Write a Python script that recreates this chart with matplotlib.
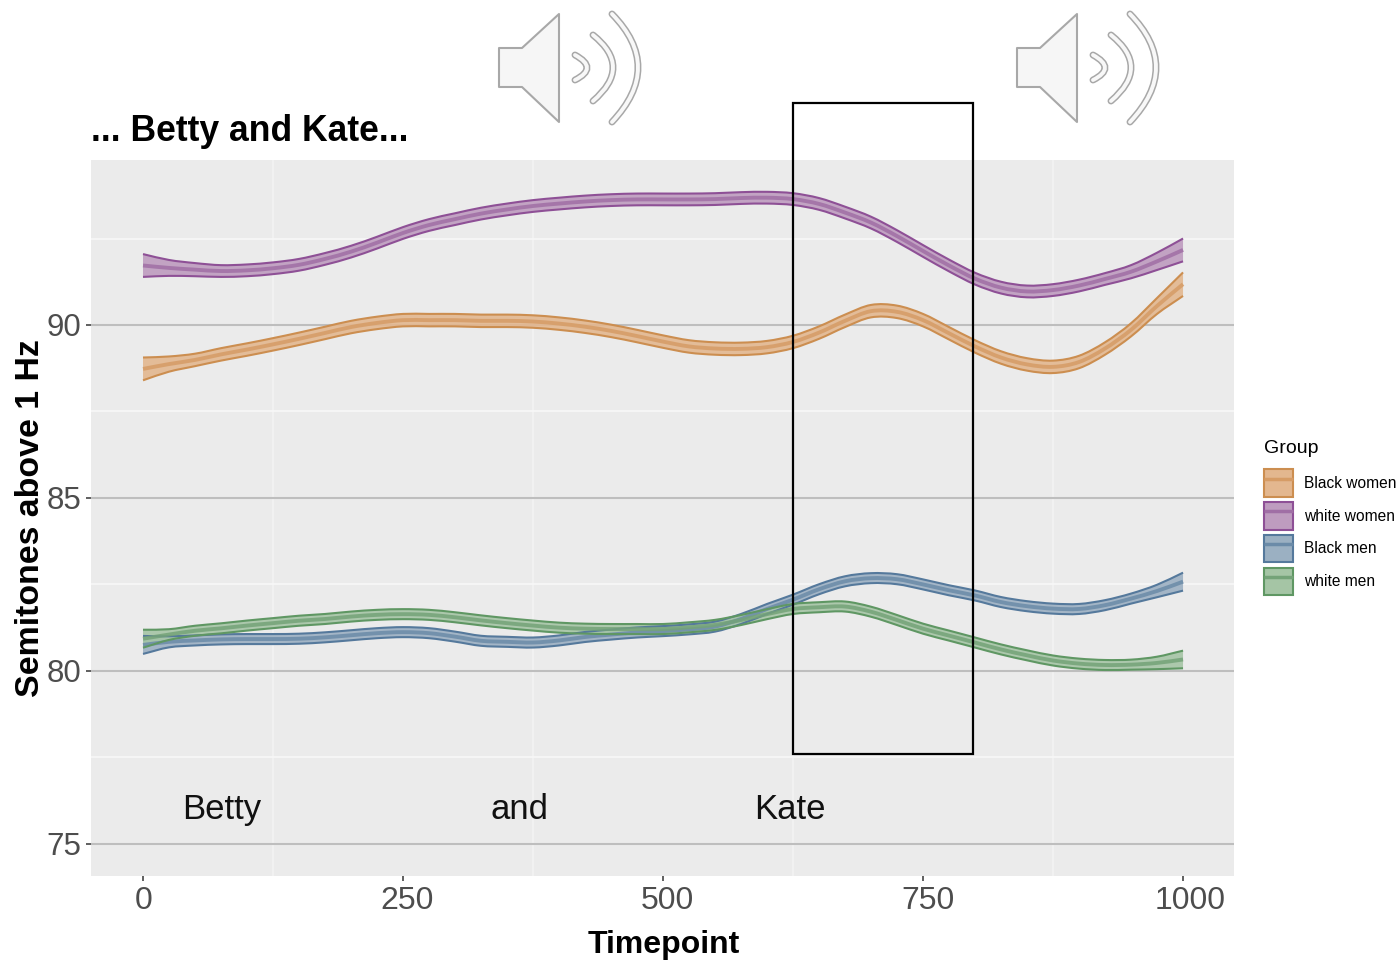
import matplotlib
matplotlib.use('Agg')
import matplotlib.pyplot as plt
import matplotlib.transforms as mtrans
from matplotlib.legend_handler import HandlerTuple
from matplotlib.lines import Line2D
from matplotlib.patches import Patch, PathPatch, Polygon, Rectangle
from matplotlib.path import Path
import numpy as np

plt.rcParams['font.family'] = ['Liberation Sans', 'DejaVu Sans']

# timepoints the curves were read at
timepoint = np.arange(0, 1001, 25)

black_women = [88.73, 88.87, 88.99, 89.15, 89.29, 89.44, 89.60, 89.77, 89.94, 90.06, 90.14,
               90.14, 90.14, 90.12, 90.12, 90.10, 90.04, 89.95, 89.83, 89.68, 89.52,
               89.38, 89.32, 89.31, 89.36, 89.51, 89.78, 90.12, 90.40, 90.38, 90.14,
               89.76, 89.38, 89.06, 88.86, 88.79, 88.93, 89.32, 89.86, 90.55, 91.18]
white_women = [91.72, 91.65, 91.60, 91.56, 91.58, 91.64, 91.74, 91.91, 92.12, 92.38, 92.66,
               92.89, 93.06, 93.22, 93.34, 93.44, 93.51, 93.57, 93.61, 93.63, 93.63,
               93.63, 93.64, 93.67, 93.68, 93.64, 93.50, 93.25, 92.96, 92.57, 92.14,
               91.72, 91.34, 91.08, 90.97, 91.01, 91.14, 91.33, 91.54, 91.84, 92.17]
black_men = [80.75, 80.84, 80.88, 80.91, 80.92, 80.92, 80.93, 80.97, 81.03, 81.09, 81.12,
             81.09, 80.99, 80.87, 80.84, 80.82, 80.88, 80.98, 81.05, 81.11, 81.15,
             81.20, 81.28, 81.50, 81.79, 82.06, 82.36, 82.59, 82.68, 82.65, 82.50,
             82.33, 82.18, 81.99, 81.87, 81.80, 81.79, 81.90, 82.09, 82.31, 82.58]
white_men = [80.93, 81.05, 81.16, 81.23, 81.31, 81.38, 81.45, 81.50, 81.57, 81.62, 81.64,
             81.62, 81.55, 81.46, 81.38, 81.31, 81.25, 81.22, 81.21, 81.21, 81.21,
             81.26, 81.33, 81.47, 81.64, 81.79, 81.84, 81.86, 81.71, 81.47, 81.22,
             81.02, 80.82, 80.62, 80.45, 80.30, 80.21, 80.17, 80.18, 80.23, 80.33]

# half width of each ribbon
hw_black_women = [0.33, 0.22, 0.18] + [0.18] * 35 + [0.19, 0.23, 0.34]
hw_white_women = [0.33, 0.23, 0.19] + [0.17] * 35 + [0.19, 0.25, 0.33]
hw_black_men = [0.26, 0.16] + [0.145] * 37 + [0.18, 0.26]
hw_white_men = [0.26, 0.155] + [0.145] * 37 + [0.18, 0.255]

groups = ['Black women', 'white women', 'Black men', 'white men']
series = [black_women, white_women, black_men, white_men]
widths = [hw_black_women, hw_white_women, hw_black_men, hw_white_men]
fills = ['#E3B78F', '#BE9CBF', '#9BB0C2', '#A5C5A5']
edges = ['#CC8E50', '#8E5096', '#55799C', '#5F9763']
mids = ['#D69C66', '#A06FA5', '#6B8BA8', '#74A378']

xticks = [0, 250, 500, 750, 1000]
xminor = [125, 375, 625, 875]
yticks = [75, 80, 85, 90]
yminor = [77.5, 82.5, 87.5, 92.5]
xlabel_shift = [1, 4.5, 4, 5, 7]   # tick labels sit a bit right of their ticks

words = ['Betty', 'and', 'Kate']
word_x = [76, 362, 622]


def curve(x, y):
    # bezier through the read points so the line doesn't look angular
    pts = np.column_stack([x, y])
    d = np.gradient(pts, axis=0) / 3
    verts = [pts[0]]
    for i in range(len(pts) - 1):
        verts += [pts[i] + d[i], pts[i + 1] - d[i + 1], pts[i + 1]]
    return np.array(verts)


def open_path(verts):
    return Path(verts, [Path.MOVETO] + [Path.CURVE4] * (len(verts) - 1))


fig = plt.figure(figsize=(13.99, 9.6), dpi=100)
ax = fig.add_axes([91/1399, 1 - 876/960, 1143/1399, 716/960])
ax.set_facecolor('#EBEBEB')
ax.set_xlim(-50, 1049)
ax.set_ylim(74.07, 94.77)
for s in ax.spines.values():
    s.set_visible(False)

ax.set_xticks(xticks)
ax.set_xticks(xminor, minor=True)
ax.set_yticks(yticks)
ax.set_yticks(yminor, minor=True)
ax.grid(True, which='minor', axis='x', color='#F4F4F4', lw=1.1)
ax.grid(True, which='minor', axis='y', color='#F8F8F8', lw=1.2)
ax.grid(True, which='major', axis='y', color='#BEBEBE', lw=1.5)
ax.set_axisbelow(True)
ax.tick_params(which='minor', length=0)
ax.tick_params(which='major', length=3.5, width=1.2, color='#444444',
               labelcolor='#4D4D4D', labelsize=23, pad=4)
ax.tick_params(axis='y', labelsize=22.5, pad=3.5)

for lab, dx in zip(ax.get_xticklabels(), xlabel_shift):
    lab.set_transform(lab.get_transform() + mtrans.ScaledTranslation(dx/100, 0, fig.dpi_scale_trans))

for vals, hw, fc, ec, mc in zip(series, widths, fills, edges, mids):
    vals = np.array(vals)
    hw = np.array(hw)
    low = curve(timepoint, vals - hw)
    high = curve(timepoint, vals + hw)
    # closed ribbon: along the top, back along the bottom
    ring = np.vstack([high, low[::-1], high[:1]])
    codes = [Path.MOVETO] + [Path.CURVE4] * (len(high) - 1) + [Path.LINETO] + \
        [Path.CURVE4] * (len(low) - 1) + [Path.LINETO]
    ax.add_patch(PathPatch(Path(ring, codes), fc=fc, ec='none', alpha=0.9, zorder=3))
    ax.add_patch(PathPatch(open_path(low), fill=False, ec=ec, lw=1.5, zorder=4))
    ax.add_patch(PathPatch(open_path(high), fill=False, ec=ec, lw=1.5, zorder=4))
    ax.add_patch(PathPatch(open_path(curve(timepoint, vals)), fill=False, ec=mc, lw=2.8,
                           alpha=0.85, capstyle='butt', zorder=4))

ax.set_xlabel('Timepoint', fontsize=23, fontweight='bold', labelpad=10, x=0.5015)
ax.set_ylabel('Semitones above 1 Hz', fontsize=24.4, fontweight='bold', labelpad=0)
ax.set_title('... Betty and Kate...', fontsize=25.6, fontweight='bold', loc='left', pad=14)

for w, x in zip(words, word_x):
    ax.text(x, 76.0, w, fontsize=25, ha='center', va='center', color='#111111')

handles = [(Patch(facecolor=fc, edgecolor=ec, lw=1.5),
            Line2D([], [], color=mc, lw=2.5, solid_capstyle='butt'))
           for fc, ec, mc in zip(fills, edges, mids)]
leg = fig.legend(handles, groups, handler_map={tuple: HandlerTuple(ndivide=1, pad=0)},
                 title='Group', title_fontsize=14, fontsize=11.2, frameon=False,
                 loc='upper left', bbox_to_anchor=(1264/1399, 1 - 440/960), borderpad=0,
                 borderaxespad=0, handlelength=1.85, handleheight=2.35, labelspacing=0.33,
                 handletextpad=0.7)
leg._legend_box.align = 'left'
leg._legend_box.sep = 9

# overlay in picture pixels, for the box and the speaker icons
over = fig.add_axes([0, 0, 1, 1], zorder=10)
over.set_xlim(0, 1399)
over.set_ylim(960, 0)
over.axis('off')
over.add_patch(Rectangle((792.5, 103), 180, 651, fill=False, ec='black', lw=1.6))


def speaker(dx):
    body = [(499, 48), (522, 48), (559, 14), (559, 122), (522, 87), (499, 87)]
    over.add_patch(Polygon([(x + dx, y) for x, y in body], closed=True,
                           fc='#F6F6F6', ec='#A8A8A8', lw=1.5, joinstyle='round'))
    arcs = [((575, 55), (587, 68), (575, 80)),
            ((593, 35), (613, 67), (593, 101)),
            ((612, 14), (638, 67), (612, 122))]
    for a, b, c in arcs:
        ctrl = (2*b[0] - (a[0] + c[0])/2 + dx, b[1])
        p = Path([(a[0] + dx, a[1]), ctrl, (c[0] + dx, c[1])],
                 [Path.MOVETO, Path.CURVE3, Path.CURVE3])
        for col, lw in (('#A8A8A8', 5), ('#F8F8F8', 2.8)):
            over.add_patch(PathPatch(p, fill=False, ec=col, lw=lw, capstyle='round'))


speaker(0)
speaker(518)

fig.savefig('out.png', dpi=100)
